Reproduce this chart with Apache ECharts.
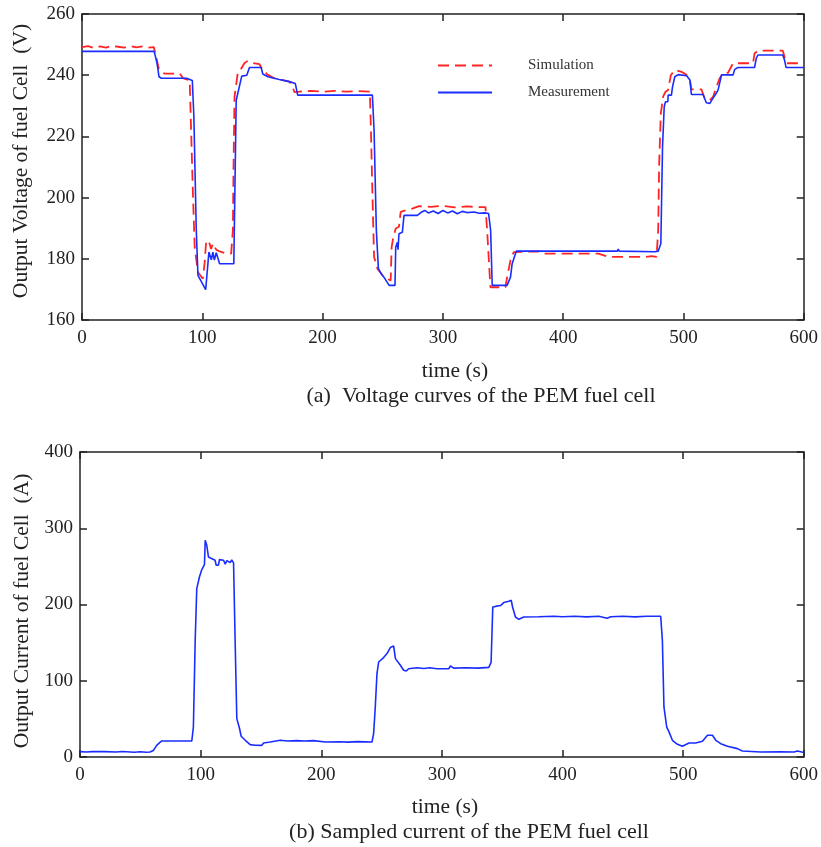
<!DOCTYPE html>
<html lang="en">

<head>
    <meta charset="UTF-8">
    <title>PEM fuel cell</title>
    <script src="https://cdn.jsdelivr.net/npm/echarts@6/dist/echarts.min.js"></script>
    <style>
        body { margin: 0; background: #fff; }
    </style>
</head>

<body>
    <div id="main" style="width: 821px;height:847px;"></div>
    <script>
        // (a) voltage, simulation (red dashed)
        var simTime = [0, 5, 10, 15, 20, 25, 30, 35, 40, 45, 50, 55, 59.7, 61.9, 63.8, 66, 68.8, 75, 81.2, 84, 86.7, 89.5,
            90.3, 92.3, 93.7, 96.4, 100.5, 101.9, 103.3, 106, 107.3, 108.8, 111.6, 114.4, 119.9, 124, 125.4, 126, 126.8,
            129.6, 132.4, 135, 137.8, 142, 147.5, 150.3, 154.5, 161.4, 167, 172.4, 175.1, 176.5, 180.6, 190, 200, 210,
            220, 230, 239.3, 240.2, 241.5, 242.8, 245.6, 251, 256.6, 257.4, 258.6, 260.8, 263.5, 264.9, 269, 274.6,
            280.1, 290, 300, 310, 320, 330, 335.4, 336.8, 339.5, 352, 353.4, 356.2, 358.9, 379.5, 382.2, 429.3, 437.6,
            468, 473.5, 477.6, 479, 479.8, 481.2, 483.1, 485.1, 487.3, 489.5, 492.8, 498.4, 502.6, 505.4, 506.6, 514.9,
            517.6, 521.9, 524.6, 527.4, 530.2, 533, 537.1, 541.2, 557.8, 559.1, 561.9, 582.6, 584, 585.3, 600];
        var simVolt = [249.2, 249.5, 248.9, 249.4, 249.0, 249.6, 249.3, 249.0, 249.5, 249.1, 249.4, 249.0, 249.2, 245.5,
            242.2, 241, 240.5, 240.5, 240.6, 239, 238.6, 238.4,
            227.5, 200.2, 183.8, 175.6, 173.5, 178.5, 186, 185, 183.2, 185, 183, 182.4, 181.7, 181.7, 189.3, 211.1, 233,
            241.1, 242.2, 243.9, 244.7, 244, 243.6, 241.7, 240.1, 238.7, 238.4, 237.9, 236.2, 234.5, 234.6, 234.9, 234.6, 234.9,
            234.6, 234.8, 234.6, 222, 200.2, 180.6, 176.8, 174, 172.9, 183.8, 186.6, 189.9, 190.5, 195.3, 195.8, 196.4,
            197.2, 197.0, 197.3, 196.8, 197.1, 196.9, 196.9, 189.3, 170.7, 170.7, 174, 179.5, 182.2, 182.4, 181.7, 181.7, 180.6,
            180.6, 180.9, 180.6, 189.3, 211.1, 227.5, 233, 234.6, 235.2, 240, 241.7, 241.1, 240.1, 238.4, 235.4, 235.4,
            232.4, 231.8, 232.9, 236.2, 239.1, 240.6, 240.8, 243.9, 243.9, 247.1, 248, 248, 246, 243.9, 243.9];

        // (a) voltage, measurement (blue)
        var measTime = [0, 60, 62.4, 64, 66, 87, 88, 91.7, 93, 95, 96.4, 102.8, 105.5, 107.5, 108.8, 110, 111.6, 114.4,
            126.2, 128.2, 132.8, 137, 139.2, 148.9, 150.3, 154.5, 164, 172.4, 177.3, 179.3, 241.4, 242.8, 244.7, 246.4,
            248.5, 251, 255.3, 260.2, 260.8, 262.2, 262.7, 263.5, 266.3, 267.7, 278.7, 282, 285, 288, 292, 296, 300,
            304, 308, 312, 316, 320, 326, 330, 334.8, 338, 339.7, 341, 353.4, 356.2, 357.6, 361, 445, 445.8, 446.6,
            476.3, 479, 481.2, 482.6, 484, 485, 487, 487.3, 490, 490.9, 492.8, 495.6, 502.6, 505.4, 506.6, 516.3, 519,
            521.9, 524.6, 527.4, 528.8, 530.7, 531.6, 541.2, 542.6, 545.3, 559.1, 560.5, 561.9, 582.6, 584, 585.3, 600];
        var measVolt = [247.8, 247.8, 243.9, 239.5, 239.0, 239.0, 238.4, 238.3, 226.4, 189.3, 174.6, 169.9, 182.2, 179.7,
            182.2, 179.6, 182, 178.4,
            178.4, 231.8, 239.7, 240, 242.5, 242.5, 240.4, 239.5, 238.6, 237.9, 237.3, 233.5, 233.5, 222, 189.3, 176.8,
            175.2, 174, 171.3, 171.3, 183.8, 185.4, 183, 188.2, 188.7, 194.2, 194.2, 195.2, 195.8, 195.0, 195.6, 194.8, 195.8,
            195.0, 195.6, 194.7, 195.5, 195.1, 195.3, 194.9, 195.0, 194.8, 189.3, 171.3, 171.3, 174, 178.4, 182.5, 182.5, 183.2, 182.5,
            182.3, 182.5, 185, 216.6, 229.7, 231.3, 231.3, 233.5, 233.5, 236.2, 239.5, 240.2, 239.8, 238.4, 233.7, 233.7, 231,
            230.8, 232.5, 234.2, 235.2, 238.4, 240.1, 240.1, 241.9, 242.5, 242.5, 245.5, 246.6, 246.6, 245, 242.5, 242.5];

        // (b) sampled current
        var curTime = [0, 5, 10, 20, 30, 35, 45, 50, 55, 58, 60.8, 63.6, 65.8, 67.8, 80, 92.7, 94, 95.5, 96.8, 99, 101,
            103.2, 103.8, 105.1, 106.5, 108, 112, 112.9, 114.8, 115.6, 119, 120.4, 121.7, 124.5, 125.8, 127.3, 128.6,
            130, 132.2, 133.6, 137, 141.1, 145, 150.8, 152.2, 157.7, 166, 172, 179.8, 186, 193.6, 203.4, 215, 222, 230,
            242.1, 243.4, 244.8, 246.2, 247.6, 251.7, 254.5, 257.3, 260, 261.5, 262.8, 265.6, 268.3, 270.5, 272.4,
            279.4, 285, 290, 296, 305.7, 307.1, 309.8, 320, 330, 338.9, 340.8, 342.2, 344.4, 348.6, 351.3, 355.5,
            357.5, 358.6, 361, 363.8, 367.9, 380, 392.8, 400, 410, 420, 430, 437, 440, 450, 460, 470, 481.4, 482.8,
            484.1, 486.4, 488.3, 491.1, 495.3, 499.4, 504.9, 510.4, 516, 520.2, 524.3, 527.1, 531.2, 536.7, 545,
            549.1, 564.3, 580, 592, 594.8, 600];
        var curAmp = [7, 6.5, 7, 7, 6.6, 7.2, 6.2, 6.8, 6.2, 6.5, 8.6, 15.3, 18.4, 21, 21, 21, 39.3, 153, 220.8, 236, 245.8,
            252.7, 284.2, 277.6, 262.3, 260, 258, 251.5, 251.5, 258.8, 258, 253, 257.5, 255, 258.3, 254.5, 153,
            50.3, 37.7, 27.2, 21.9, 16.2, 15.5, 15.3, 18.4, 19.7, 21.9, 21, 21.5, 21, 21.5, 19.7, 20, 19.5, 20.2,
            19.7, 30.7, 65.6, 109.4, 124.6, 130.4, 135.6, 143.5, 145.6, 129, 126.8, 120.3, 113.7, 112.8, 115.8,
            117.1, 116, 117, 115.8, 115.8, 119.3, 116.5, 117, 116.5, 117.6, 124, 196.7, 197.5, 198.6, 202.5, 204.3,
            205.5, 196.7, 183.6, 180.6, 183.6, 184, 184.5, 184, 184.5, 183.8, 184.5, 182, 184, 184.5, 183.8, 184.5, 184.5, 153,
            65.6, 39.3, 33, 21.9, 16.7, 14, 18.4, 18.4, 20.6, 28.5, 28.5, 21.9, 17.5, 14, 11,
            7.9, 6.6, 6.8, 6.6, 7.9, 5.8];

        function pairs(xs, ys) {
            return xs.map(function (x, i) { return [x, ys[i]]; });
        }

        var myChart = echarts.init(document.getElementById('main'));

        var serif = 'Liberation Serif';
        var ink = '#222';

        function frameX(grid, pos, show) {
            return {
                type: 'value', gridIndex: grid, position: pos, min: 0, max: 600, interval: 100,
                axisLine: { show: true, onZero: false, lineStyle: { color: ink, width: 1.5 } },
                axisTick: { show: true, inside: true, length: 7, lineStyle: { color: ink, width: 1.5 } },
                axisLabel: { show: show, margin: 9, fontFamily: serif, fontSize: 19, color: ink },
                splitLine: { show: false }
            };
        }
        function frameY(grid, pos, min, max, step, show) {
            return {
                type: 'value', gridIndex: grid, position: pos, min: min, max: max, interval: step,
                axisLine: { show: true, onZero: false, lineStyle: { color: ink, width: 1.5 } },
                axisTick: { show: true, inside: true, length: 7, lineStyle: { color: ink, width: 1.5 } },
                axisLabel: { show: show, margin: 7, fontFamily: serif, fontSize: 19, color: ink },
                splitLine: { show: false }
            };
        }
        function txt(s, x, y, size, rot) {
            return {
                type: 'text', x: x, y: y, rotation: rot || 0,
                style: { text: s, fontFamily: serif, fontSize: size, fill: ink, align: 'center', verticalAlign: 'middle' }
            };
        }

        var option = {
            animation: false,
            backgroundColor: '#fff',
            grid: [
                { left: 82, top: 14, width: 724, height: 306 },
                { left: 80, top: 452, width: 726, height: 305 }
            ],
            xAxis: [frameX(0, 'bottom', true), frameX(0, 'top', false), frameX(1, 'bottom', true), frameX(1, 'top', false)],
            yAxis: [frameY(0, 'left', 160, 260, 20, true), frameY(0, 'right', 160, 260, 20, false),
                frameY(1, 'left', 0, 400, 100, true), frameY(1, 'right', 0, 400, 100, false)],
            legend: {
                data: ['Simulation', 'Measurement'],
                orient: 'vertical',
                left: 432, top: 53,
                itemWidth: 54, itemHeight: 14, itemGap: 12,
                itemStyle: { opacity: 0 },
                textStyle: { fontFamily: serif, fontSize: 15, color: '#333', padding: [0, 0, 0, 31] }
            },
            graphic: [
                txt('Output Voltage of fuel Cell  (V)', 21, 161, 21.5, Math.PI / 2),
                txt('time (s)', 455, 371, 21.5),
                txt('(a)  Voltage curves of the PEM fuel cell', 481, 396, 22),
                txt('Output Current of fuel Cell  (A)', 22, 611, 21.5, Math.PI / 2),
                txt('time (s)', 445, 807, 21.5),
                txt('(b) Sampled current of the PEM fuel cell', 469, 832, 22)
            ],
            series: [
                {
                    name: 'Simulation', type: 'line', xAxisIndex: 0, yAxisIndex: 0,
                    symbol: 'none', color: '#ff2424',
                    lineStyle: { width: 1.8, type: [11, 6], color: '#ff2424' },
                    data: pairs(simTime, simVolt)
                },
                {
                    name: 'Measurement', type: 'line', xAxisIndex: 0, yAxisIndex: 0,
                    symbol: 'none', color: '#1a2dff',
                    lineStyle: { width: 1.6, color: '#1a2dff' },
                    data: pairs(measTime, measVolt)
                },
                {
                    name: 'Current', type: 'line', xAxisIndex: 2, yAxisIndex: 2,
                    symbol: 'none', color: '#1a2dff',
                    lineStyle: { width: 1.6, color: '#1a2dff' },
                    data: pairs(curTime, curAmp)
                }
            ]
        };

        myChart.setOption(option);
    </script>
</body>

</html>
